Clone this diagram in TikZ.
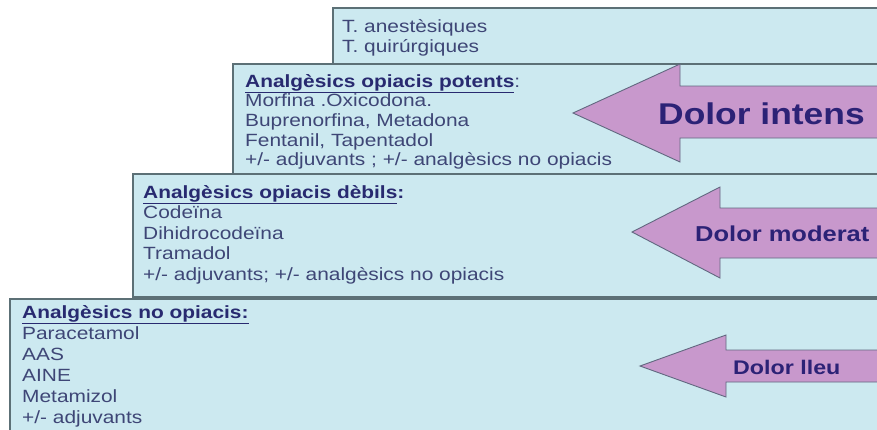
\documentclass[tikz,border=0pt]{standalone}
\usepackage{fontspec}
\setmainfont{Liberation Sans}[FakeStretch=1.18]
\usetikzlibrary{positioning}

\definecolor{boxfill}{RGB}{204,233,240}
\definecolor{boxline}{RGB}{92,112,118}
\definecolor{arrowfill}{RGB}{200,152,204}
\definecolor{arrowline}{RGB}{98,104,128}
\definecolor{drugtext}{RGB}{62,70,118}
\definecolor{headtext}{RGB}{40,42,112}
\definecolor{paintext}{RGB}{44,34,118}

\newcommand{\rungtitle}[1]{\textcolor{headtext}{\bfseries\underline{#1}}}

\begin{document}
\begin{tikzpicture}[x=1pt, y=-1pt,
    level/.style={draw=boxline, fill=boxfill, line width=1.2pt},
    pain/.style={draw=arrowline, fill=arrowfill, line width=0.9pt, line join=miter},
    drugs/.style={anchor=north west, align=left, inner sep=0pt, text=drugtext, font=\fontsize{17.7}{20.5}\selectfont},
    painlabel/.style={anchor=base west, inner sep=0pt, text=paintext}
]

\useasboundingbox (0,0) rectangle (877,429);
\clip (0,0) rectangle (877,429);

% esglaons
\draw[level] (333,8) rectangle (900,64);
\draw[level] (233,64) rectangle (900,174);
\draw[level] (133,174) rectangle (900,297);
\draw[level] (10,299) rectangle (900,440);

% textos dels esglaons
\node[drugs] (rung4) at (342,17.6) {\strut T. anestèsiques\\T. quirúrgiques};
\node[drugs, font=\fontsize{17.7}{19.7}\selectfont] (rung3) at (245,73.2)
  {\strut\rungtitle{Analgèsics opiacis potents}:\\Morfina .Oxicodona.\\Buprenorfina, Metadona\\Fentanil, Tapentadol\\+/- adjuvants ; +/- analgèsics no opiacis};
\node[drugs] (rung2) at (143,183.6)
  {\strut\rungtitle{Analgèsics opiacis dèbils}\textcolor{headtext}{\bfseries:}\\Codeïna\\Dihidrocodeïna\\Tramadol\\+/- adjuvants; +/- analgèsics no opiacis};
\node[drugs, font=\fontsize{17.7}{21}\selectfont] (rung1) at (22,303.3)
  {\strut\rungtitle{Analgèsics no opiacis:}\\Paracetamol\\AAS\\AINE\\Metamizol\\+/- adjuvants};

% fletxes de dolor
\draw[pain] (573,113) -- (680,64) -- (680,86) -- (900,86) -- (900,138) -- (680,138) -- (680,162) -- cycle;
\node[painlabel, font=\fontsize{30}{30}\selectfont\bfseries] (intens) at (658,124) {Dolor intens};

\draw[pain] (632,232) -- (720,187) -- (720,208) -- (900,208) -- (900,258) -- (720,258) -- (720,278) -- cycle;
\node[painlabel, font=\fontsize{21.6}{21.6}\selectfont\bfseries] (moderat) at (695,241.5) {Dolor moderat};

\draw[pain] (640,366) -- (726,335) -- (726,350) -- (900,350) -- (900,382) -- (726,382) -- (726,397) -- cycle;
\node[painlabel, font=\fontsize{19.7}{19.7}\selectfont\bfseries] (lleu) at (733,374) {Dolor lleu};

\end{tikzpicture}
\end{document}
